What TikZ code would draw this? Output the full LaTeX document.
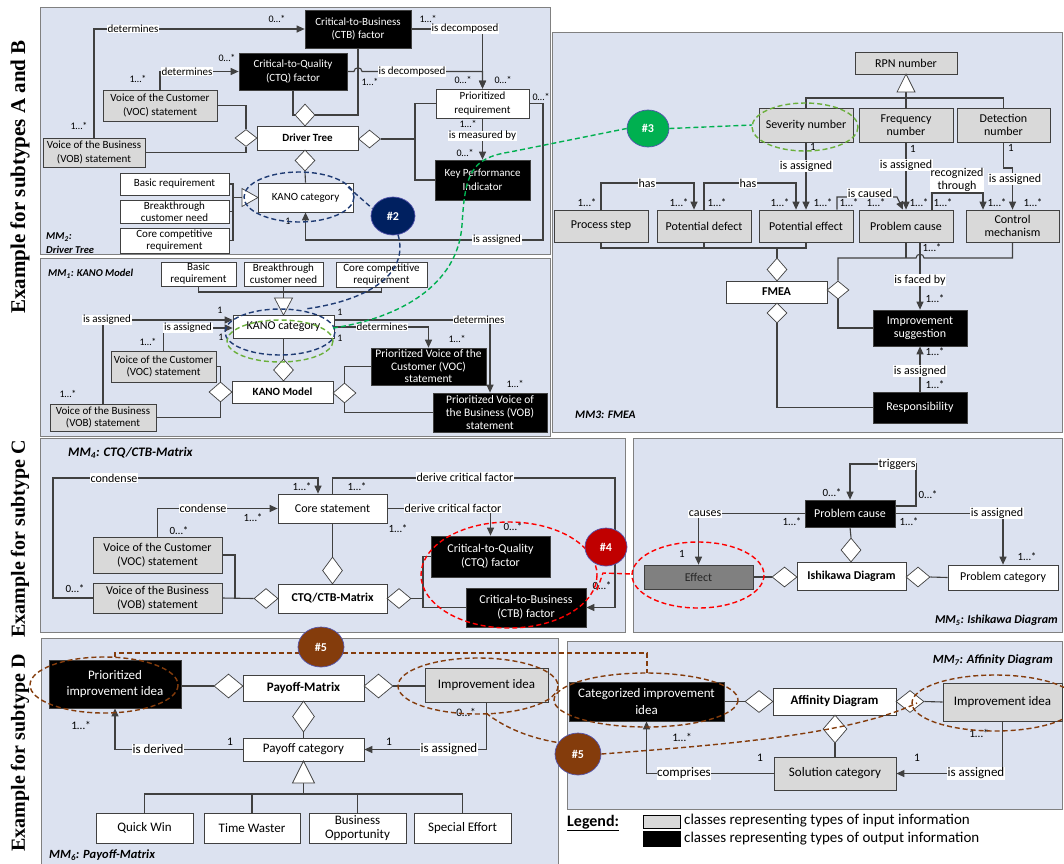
\documentclass[tikz,border=0pt]{standalone}
\usepackage{fontspec}
\setmainfont{Carlito}
\newfontfamily\tms{Liberation Serif}
\usetikzlibrary{shapes.geometric,arrows.meta,shadows,calc}
\definecolor{panel}{HTML}{DCE2F0}
\definecolor{pbord}{HTML}{808080}
\definecolor{lnc}{HTML}{404040}
\definecolor{gfill}{HTML}{D9D9D9}
\definecolor{effg}{HTML}{808080}
\definecolor{navyc}{HTML}{1F3B73}
\definecolor{navyf}{HTML}{002060}
\definecolor{grn}{HTML}{00B050}
\definecolor{grnl}{HTML}{6AAF3A}
\definecolor{redc}{HTML}{FF0000}
\definecolor{dredc}{HTML}{C00000}
\definecolor{brn}{HTML}{843C0C}
\def\nsz{11}\def\nbs{13}\def\msz{10}\def\lsz{11}
\newcommand\nf{\fontsize{\nsz}{\nbs}\selectfont}
\newcommand\mf{\fontsize{\msz}{\msz}\selectfont}
\newcommand\lf{\fontsize{\lsz}{\lsz}\selectfont}
\tikzset{
 pnl/.style={fill=panel, draw=pbord, line width=1pt},
 box/.style={draw=lnc, line width=0.7pt, align=center, inner sep=1pt, font=\nf,
   drop shadow={shadow xshift=1.2pt, shadow yshift=-1.2pt, fill=black, opacity=0.35}},
 inb/.style={box, fill=gfill},
 outb/.style={box, fill=black, text=white},
 wb/.style={box, fill=white},
 bb/.style={box, fill=white, font=\nf\bfseries},
 agg/.style={diamond, draw=lnc, fill=white, line width=0.7pt, inner sep=0pt, minimum width=24, minimum height=20},
 ln/.style={draw=lnc, line width=1.1pt},
 arr/.style={ln, -{Triangle[length=8pt,width=7pt]}},
 lab/.style={fill=white, inner sep=0.6pt, font=\nf},
 mul/.style={inner sep=0pt, font=\mf},
 circ/.style={ellipse, draw=blue!35!gray, line width=0.7pt, text=white, font=\fontsize{12}{12}\selectfont\bfseries, inner sep=0pt},
 dsh/.style={dash pattern=on 5pt off 3pt, line width=1.4pt},
 gen/.style={draw=lnc, fill=white, line width=0.7pt},
 mmlab/.style={font=\lf\bfseries\itshape, inner sep=0pt},
 side/.style={rotate=90, font=\tms\bfseries\fontsize{20}{20}\selectfont, inner sep=0pt},
}
\begin{document}
\begin{tikzpicture}[x=1pt,y=-1pt]
\useasboundingbox (0,0) rectangle (1064,863);
\clip (0,0) rectangle (1064,863);
\fill[white] (0,0) rectangle (1064,863);
% panels
\draw[pnl] (40,7) rectangle (550,254);
\draw[pnl] (40,258) rectangle (550,436);
\draw[pnl] (552,32) rectangle (1062,432);
\draw[pnl] (40,438) rectangle (625,632);
\draw[pnl] (633,438) rectangle (1062,632);
\draw[pnl] (41,638) rectangle (558,870);
\draw[pnl] (567,641) rectangle (1062,809);
% side labels
\node[side, font=\tms\bfseries\fontsize{21}{21}\selectfont] (sAB) at (20,177) {Example for subtypes A and B};
\node[side] (sC) at (20,539) {Example for subtype C};
\node[side] (sD) at (20,753) {Example for subtype D};

% ================= MM2 Driver Tree
\begin{scope}
\def\nsz{11}\def\nbs{13.5}\def\msz{10}\def\lsz{10.5}
\node[inb, minimum width=114, minimum height=31] (voc2) at (160,105.5) {Voice of the Customer\\(VOC) statement};
\node[inb, minimum width=102, minimum height=29] (vob2) at (94,152.5) {Voice of the Business\\(VOB) statement};
\node[outb, minimum width=108, minimum height=37] (ctq2) at (293,71.5) {Critical-to-Quality\\(CTQ) factor};
\node[outb, minimum width=106, minimum height=38] (ctb2) at (358,29) {Critical-to-Business\\(CTB) factor};
\node[bb, minimum width=101, minimum height=24] (dt) at (307.5,138) {Driver Tree};
\node[wb, minimum width=93, minimum height=29] (prio) at (482.5,103.5) {Prioritized\\requirement};
\node[outb, minimum width=95, minimum height=40] (kpi) at (482.5,180) {Key Performance\\Indicator};
\node[wb, minimum width=95, minimum height=29] (kano2) at (305.5,197.5) {KANO category};
\node[wb, minimum width=109, minimum height=22] (basic2) at (174.5,184) {Basic requirement};
\node[wb, minimum width=109, minimum height=23, font=\fontsize{11}{12}\selectfont] (break2) at (174.5,211.5) {Breakthrough\\customer need};
\node[wb, minimum width=109, minimum height=25, font=\fontsize{11}{12}\selectfont] (core2) at (174.5,240.5) {Core competitive\\requirement};
\node[agg, minimum width=22, minimum height=17] (d2l) at (246,138) {};
\node[agg, minimum width=20, minimum height=22] (d2t) at (305,115) {};
\node[agg, minimum width=22, minimum height=18] (d2r) at (369.5,139) {};
\node[agg, minimum width=20, minimum height=21] (d2b) at (305,160.5) {};
\draw[ln] (voc2.east) -| (d2l.north);
\draw[ln] (vob2.east) -| (d2l.south);
\draw[ln] (ctq2.south) |- (d2t.west);
\draw[ln] (ctb2.south) |- (d2t.east);
\draw[ln] (d2r.east) -- (415,139);
\draw[ln] (prio.west) -- (415,103.5) -- (415,180) -- (kpi.west);
\draw[ln] (d2b.south) -- (kano2.north);
\draw[ln] (basic2.east) -- (233,184) -- (233,240.5) -- (core2.east);
\draw[ln] (break2.east) -- (233,211.5);
\draw[ln] (233,197.5) -- (242,197.5);
\draw[gen] (242,188.5) -- (258,197.5) -- (242,206.5) -- cycle;
\draw[arr] (vob2.north) |- (ctb2.west);
\draw[arr] (voc2.north) |- (ctq2.west);
\draw[arr] (ctb2.east) -| (prio.north);
\draw[arr] (ctq2.east) -- (354,71.5) .. controls (354,66.5) and (362,66.5) .. (362,71.5) -| (prio.north);
\draw[arr] (prio.south) -- (kpi.north);
\draw[arr] (prio.east) -- (543,103.5) -- (543,240) -| (kano2.south);
\node[lab] at (133,29) {determines};
\node[lab] at (187,71.5) {determines};
\node[lab] at (465,29) {is decomposed};
\node[lab] at (412,71.5) {is decomposed};
\node[lab] at (482.5,136) {is measured by};
\node[lab] at (497,240) {is assigned};
\node[mul] at (79,126) {1…*};
\node[mul] at (277,19) {0…*};
\node[mul] at (138,79) {1…*};
\node[mul] at (227,58) {0…*};
\node[mul] at (428,19) {1…*};
\node[mul] at (370,82) {1…*};
\node[mul] at (463,80) {0…*};
\node[mul] at (503,80) {0…*};
\node[mul] at (468,124) {1…*};
\node[mul] at (465,153) {0…*};
\node[mul] at (541,97) {0…*};
\node[mul] at (288,221) {1};
\node[mmlab, anchor=west] at (46,237) {MM\textsubscript{2}:};
\node[mmlab, anchor=west] at (46,250) {Driver Tree};
\end{scope}

% ================= MM1 KANO
\begin{scope}
\def\nsz{11}\def\nbs{12.5}\def\msz{10}\def\lsz{10.5}
\node[wb, minimum width=75, minimum height=24, font=\fontsize{11}{12}\selectfont] (basic1) at (198.5,274) {Basic\\requirement};
\node[wb, minimum width=79, minimum height=24, font=\fontsize{11}{12}\selectfont] (break1) at (283.5,274) {Breakthrough\\customer need};
\node[wb, minimum width=91, minimum height=25, font=\fontsize{11}{12}\selectfont] (core1) at (381.5,274.5) {Core competitive\\requirement};
\node[wb, minimum width=101, minimum height=23, font=\fontsize{12}{12}\selectfont] (kano1) at (283.5,326.5) {KANO category};
\node[inb, minimum width=105, minimum height=31] (voc1) at (163.5,366.5) {Voice of the Customer\\(VOC) statement};
\node[inb, minimum width=106, minimum height=27] (vob1) at (103,417.5) {Voice of the Business\\(VOB) statement};
\node[bb, minimum width=101, minimum height=22] (km) at (282.5,392) {KANO Model};
\node[outb, minimum width=115, minimum height=37, font=\fontsize{11.5}{12.5}\selectfont] (pvoc) at (428.5,366.5) {Prioritized Voice of the\\Customer (VOC)\\statement};
\node[outb, minimum width=114, minimum height=39, font=\fontsize{11.5}{13}\selectfont] (pvob) at (490,412.5) {Prioritized Voice of\\the Business (VOB)\\statement};
\node[agg, minimum width=20, minimum height=22] (d1t) at (283.5,370) {};
\node[agg, minimum width=23, minimum height=20] (d1l) at (220.5,392) {};
\node[agg, minimum width=23, minimum height=20] (d1r) at (344.5,393) {};
\draw[ln] (basic1.south) -- (198.5,292) -- (381.5,292) -- (core1.south);
\draw[ln] (break1.south) -- (283.5,298);
\draw[gen] (274.5,298) -- (292.5,298) -- (283.5,315) -- cycle;
\draw[ln] (kano1.south) -- (d1t.north);
\draw[ln] (voc1.east) -| (d1l.north);
\draw[ln] (vob1.east) -| (d1l.south);
\draw[ln] (pvoc.west) -| (d1r.north);
\draw[ln] (pvob.west) -| (d1r.south);
\draw[arr] (vob1.north) |- ([yshift=6.5pt]kano1.west);
\draw[arr] (voc1.north) |- ([yshift=-1.5pt]kano1.west);
\draw[arr] ([yshift=-0.5pt]kano1.east) -| (pvoc.north);
\draw[arr] ([yshift=6.5pt]kano1.east) -| (pvob.north);
\node[lab] at (107,320) {is assigned};
\node[lab] at (188,328) {is assigned};
\node[lab] at (382,327) {determines};
\node[lab] at (479,320) {determines};
\node[mul] at (68,394) {1…*};
\node[mul] at (220,310) {1};
\node[mul] at (148,342) {1…*};
\node[mul] at (221,337) {1};
\node[mul] at (457,339) {1…*};
\node[mul] at (340,338) {1};
\node[mul] at (515,384) {1…*};
\node[mul] at (340,312) {1};
\node[mmlab, anchor=west] at (48,274) {MM\textsubscript{1}: KANO Model};
\end{scope}

% ================= MM3 FMEA
\begin{scope}
\def\nsz{12}\def\nbs{13.5}\def\msz{11}\def\lsz{11.5}
\node[inb, minimum width=102, minimum height=22] (rpn) at (906,63) {RPN number};
\node[inb, minimum width=94, minimum height=34] (sev) at (806,125) {Severity number};
\node[inb, minimum width=94, minimum height=34] (freq) at (906,125) {Frequency\\number};
\node[inb, minimum width=93, minimum height=34] (det) at (1003.5,125) {Detection\\number};
\node[inb, minimum width=94, minimum height=32] (ps) at (601,226) {Process step};
\node[inb, minimum width=94, minimum height=32] (pd) at (704,226) {Potential defect};
\node[inb, minimum width=94, minimum height=32] (pe) at (806,226) {Potential effect};
\node[inb, minimum width=94, minimum height=32] (pc3) at (906,226) {Problem cause};
\node[inb, minimum width=93, minimum height=32] (cm) at (1012.5,226) {Control\\mechanism};
\node[bb, minimum width=101, minimum height=22] (fmea) at (776.5,292) {FMEA};
\node[outb, minimum width=94, minimum height=36] (is) at (920,328) {Improvement\\suggestion};
\node[outb, minimum width=94, minimum height=31] (resp) at (920,407.5) {Responsibility};
\node[agg, minimum width=20, minimum height=23] (d3t) at (777,269.5) {};
\node[agg, minimum width=22, minimum height=18] (d3r) at (838,290) {};
\node[agg, minimum width=20, minimum height=20] (d3b) at (777,313) {};
\draw[ln] (sev.north) -- (806,98) -- (1003.5,98) -- (det.north);
\draw[ln] (freq.north) -- (906,92);
\draw[gen] (897,92) -- (915,92) -- (906,74) -- cycle;
\draw[ln] (ps.south) -- (601,248) -- (806,248) -- (pe.south);
\draw[ln] (pd.south) -- (704,248);
\draw[ln] (d3t.north) -- (777,248);
\draw[ln] (d3r.north) -- (838,258) -- (916,258) .. controls (916,253) and (924,253) .. (924,258) -- (1012.5,258) -- (cm.south);
\draw[ln] (pc3.south) -- (906,258);
\draw[ln] (d3r.south) |- (is.west);
\draw[ln] (d3b.south) |- (resp.west);
\draw[arr] (ps.north) -- (601,183) -| ([xshift=-10pt]pd.north);
\draw[arr] (pd.north) -- (704,183) -| ([xshift=-10pt]pe.north);
\draw[arr] (sev.south) -- (pe.north);
\draw[arr] ([xshift=31pt]pe.north) -- (837,197) -- (897,197) -- ([xshift=-3pt]pc3.north);
\draw[arr] (freq.south) -- (pc3.north);
\draw[arr] ([xshift=26pt]pc3.north) -- (932,193) -- (983,193) -- ([xshift=-29.5pt]cm.north);
\draw[arr] (det.south) -- (1003.5,168) -| (cm.north);
\draw[arr] ([xshift=14pt]pc3.south) -- (is.north);
\draw[arr] (resp.north) -- (is.south);
\node[lab] at (647,183) {has};
\node[lab] at (748,183) {has};
\node[lab] at (806,166) {is assigned};
\node[lab] at (870,193) {is caused};
\node[lab] at (906,165) {is assigned};
\node[lab, align=center, font=\fontsize{12}{13}\selectfont] at (957,180) {recognized\\through};
\node[lab] at (1015,179) {is assigned};
\node[lab] at (920,280) {is faced by};
\node[lab] at (920,371) {is assigned};
\foreach \xx in {587,679,717,780,823,849,876,919,943,997,1033} {\node[mul] at (\xx,203) {1…*};}
\node[mul] at (813,147) {1};
\node[mul] at (913,149) {1};
\node[mul] at (1011,148) {1};
\node[mul] at (932,248) {1…*};
\node[mul] at (935,299) {1…*};
\node[mul] at (935,352) {1…*};
\node[mul] at (935,385) {1…*};
\node[mmlab, anchor=west] at (575,415) {MM3: FMEA};
\end{scope}

% ================= MM4 CTQ/CTB
\begin{scope}
\def\nsz{12}\def\nbs{14}\def\msz{11}\def\lsz{13}
\node[wb, minimum width=109, minimum height=29] (core4) at (332.5,508.5) {Core statement};
\node[inb, minimum width=129, minimum height=36] (voc4) at (157.5,555) {Voice of the Customer\\(VOC) statement};
\node[inb, minimum width=129, minimum height=30] (vob4) at (157.5,598) {Voice of the Business\\(VOB) statement};
\node[bb, minimum width=109, minimum height=29] (mat) at (332.5,598.5) {CTQ/CTB-Matrix};
\node[outb, minimum width=119, minimum height=41] (ctq4) at (490.5,556.5) {Critical-to-Quality\\(CTQ) factor};
\node[outb, minimum width=120, minimum height=39] (ctb4) at (526,607.5) {Critical-to-Business\\(CTB) factor};
\node[agg, minimum width=20, minimum height=27] (d4t) at (332.5,570.5) {};
\node[agg, minimum width=24, minimum height=20] (d4l) at (266,598.5) {};
\node[agg, minimum width=24, minimum height=20] (d4r) at (399,598.5) {};
\draw[ln] (core4.south) -- (d4t.north);
\draw[ln] (vob4.east) -- (d4l.west);
\draw[ln] (voc4.east) -- (235,555) -- (235,598.5);
\draw[ln] (d4r.east) -- (423,598.5);
\draw[ln] (ctq4.west) -- (423,556.5) -- (423,607.5) -- (ctb4.west);
\draw[arr] (vob4.west) -- (53,598) -- (53,478) -| ([xshift=-14.5pt]core4.north);
\draw[arr] (voc4.north) |- (core4.west);
\draw[arr] (core4.east) -| (ctq4.north);
\draw[arr] (core4.north) -- (332.5,478) -- (615,478) |- (ctb4.east);
\node[lab] at (114,478) {condense};
\node[lab] at (203,508.5) {condense};
\node[lab] at (453,508.5) {derive critical factor};
\node[lab] at (465,477) {derive critical factor};
\node[mul] at (75,589) {0…*};
\node[mul] at (302,487) {1…*};
\node[mul] at (179,531) {0…*};
\node[mul] at (253,518) {1…*};
\node[mul] at (398,529) {1…*};
\node[mul] at (513,527) {0…*};
\node[mul] at (357,487) {1…*};
\node[mul] at (602,586) {0…*};
\node[mmlab, anchor=west] at (68,453) {MM\textsubscript{4}: CTQ/CTB-Matrix};
\end{scope}

% ================= MM5 Ishikawa
\begin{scope}
\def\nsz{12}\def\nbs{14}\def\msz{11}\def\lsz{12}
\node[outb, minimum width=90, minimum height=27] (pc5) at (850,513.5) {Problem cause};
\node[box, fill=effg, text=black!85, minimum width=109, minimum height=24] (eff) at (698.5,577) {Effect};
\node[bb, minimum width=109, minimum height=28] (ish) at (851.5,576) {Ishikawa Diagram};
\node[wb, minimum width=110, minimum height=25] (pcat) at (1003,577.5) {Problem category};
\node[agg, minimum width=20, minimum height=24] (d5t) at (851,550) {};
\node[agg, minimum width=25, minimum height=20] (d5l) at (784.5,577) {};
\node[agg, minimum width=24, minimum height=20] (d5r) at (918,577) {};
\draw[ln] (pc5.south) -- (d5t.north);
\draw[ln] (eff.east) -- (d5l.west);
\draw[ln] (d5r.east) -- (pcat.west);
\draw[arr] ([yshift=7.5pt]pc5.east) -- (916,506) -- (916,464) -| (pc5.north);
\draw[arr] (pc5.west) -| (eff.north);
\draw[arr] (pc5.east) -| (pcat.north);
\node[lab] at (897,464) {triggers};
\node[lab] at (705,514) {causes};
\node[lab] at (997,513) {is assigned};
\node[mul] at (832,493) {0…*};
\node[mul] at (928,495) {0…*};
\node[mul] at (792,522) {1…*};
\node[mul] at (682,554) {1};
\node[mul] at (909,522) {1…*};
\node[mul] at (1027,557) {1…*};
\node[mmlab, anchor=east] at (1058,620) {MM\textsubscript{5}: Ishikawa Diagram};
\end{scope}

% ================= MM6 Payoff
\begin{scope}
\def\nsz{13}\def\nbs{16}\def\msz{11.5}\def\lsz{12.5}
\node[outb, minimum width=132, minimum height=48] (pii) at (115,684) {Prioritized\\improvement idea};
\node[bb, minimum width=121, minimum height=26] (pm) at (303.5,688) {Payoff-Matrix};
\node[inb, minimum width=123, minimum height=34] (ii6) at (486.5,685) {Improvement idea};
\node[wb, minimum width=121, minimum height=23] (pcat6) at (303.5,749.5) {Payoff category};
\node[wb, minimum width=97, minimum height=30] (qw) at (144.5,828) {Quick Win};
\node[wb, minimum width=96, minimum height=30] (tw) at (252,828) {Time Waster};
\node[wb, minimum width=97, minimum height=30, font=\fontsize{13}{13.5}\selectfont] (bo) at (357.5,828) {Business\\Opportunity};
\node[wb, minimum width=97, minimum height=30] (se) at (462.5,828) {Special Effort};
\node[agg, minimum width=29, minimum height=24] (d6l) at (228.5,686) {};
\node[agg, minimum width=29, minimum height=24] (d6r) at (378.5,686) {};
\node[agg, minimum width=22, minimum height=31] (d6b) at (303.5,716.5) {};
\draw[ln] (pii.east |- d6l.west) -- (d6l.west);
\draw[ln] (d6r.east) -- (ii6.west |- d6r.east);
\draw[ln] (d6b.south) -- (pcat6.north);
\draw[ln] (303.5,783) -- (303.5,794);
\draw[ln] (qw.north) -- (144.5,794) -- (462.5,794) -- (se.north);
\draw[ln] (tw.north) -- (252,794);
\draw[ln] (bo.north) -- (357.5,794);
\draw[gen] (292.5,783) -- (314.5,783) -- (303.5,761) -- cycle;
\draw[arr] (pcat6.west) -| (pii.south);
\draw[arr] (ii6.south) |- (pcat6.east);
\node[lab] at (158,749.5) {is derived};
\node[lab] at (449,749.5) {is assigned};
\node[mul] at (230,742) {1};
\node[mul] at (81,725) {1…*};
\node[mul] at (389,742) {1};
\node[mul] at (466,712) {0…*};
\node[mmlab, anchor=west] at (49,855) {MM\textsubscript{6}: Payoff-Matrix};
\end{scope}

% ================= MM7 Affinity
\begin{scope}
\def\nsz{13}\def\nbs{16.5}\def\msz{11.5}\def\lsz{12.5}
\node[outb, minimum width=155, minimum height=39] (cii) at (646.5,701.5) {Categorized improvement\\idea};
\node[bb, minimum width=123, minimum height=27] (ad) at (834.5,701.5) {Affinity Diagram};
\node[inb, minimum width=119, minimum height=38] (ii7) at (1002.5,702) {Improvement idea};
\node[inb, minimum width=122, minimum height=33] (sc) at (835,773.5) {Solution category};
\node[agg, minimum width=28, minimum height=22] (d7l) at (759,701.5) {};
\node[agg, minimum width=28, minimum height=22] (d7r) at (910,701.5) {};
\node[agg, minimum width=24, minimum height=28] (d7b) at (835,729) {};
\draw[ln] (cii.east) -- (d7l.west);
\draw[ln] (d7r.east) -- (ii7.west);
\draw[ln] (d7b.south) -- (sc.north);
\draw[arr] (sc.west) -| (cii.south);
\draw[arr] (ii7.south) |- (sc.east);
\node[lab] at (684,773.5) {comprises};
\node[lab] at (976,773.5) {is assigned};
\node[mul] at (760,758) {1};
\node[mul] at (682,737) {1…*};
\node[mul] at (917,758) {1};
\node[mul] at (979,733) {1…*};
\node[mmlab, anchor=east] at (1053,660) {MM\textsubscript{7}: Affinity Diagram};
\end{scope}

% ================= Legend
\node[font=\fontsize{16}{16}\selectfont\bfseries, anchor=west, inner sep=0pt] (leg) at (567,823) {\underline{Legend:}};
\node[draw=black, line width=0.7pt, fill=gfill, minimum width=37, minimum height=13, inner sep=0pt] (lg1) at (661.5,821.5) {};
\node[draw=black, fill=black, minimum width=37, minimum height=15, inner sep=0pt] (lg2) at (661.5,838.5) {};
\node[anchor=west, font=\fontsize{15}{15}\selectfont, inner sep=0pt] (lt1) at (684,820.5) {classes representing types of input information};
\node[anchor=west, font=\fontsize{15}{15}\selectfont, inner sep=0pt] (lt2) at (684,838.5) {classes representing types of output information};

% ================= highlight overlays
% navy #2
\draw[navyc, dsh] (299,197) ellipse [x radius=55, y radius=25];
\draw[navyc, dsh] (280,332) ellipse [x radius=55, y radius=23];
\node[circ, fill=navyf, minimum width=44, minimum height=38] (c2) at (393,216) {\#2};
\draw[navyc, dsh] (348,187) -- (c2.160);
\draw[navyc, dsh] (c2.-75) .. controls (409,272) and (372,300) .. (305,309);
% green #3
\draw[grnl, dsh] (280,341) ellipse [x radius=53, y radius=21];
\draw[grnl, dsh] (805,127) ellipse [x radius=53, y radius=24];
\node[circ, fill=grn, minimum width=42, minimum height=37] (c3) at (648,128.5) {\#3};
\draw[grn, dsh] (333,328) .. controls (400,318) and (458,285) .. (462,225) .. controls (465,175) and (470,158) .. (510,152) -- (c3.west);
\draw[grn, dsh] (c3.east) -- (752,125);
% red #4
\draw[redc, dsh] (509,575) ellipse [x radius=88, y radius=53];
\draw[redc, dsh] (698,575) ellipse [x radius=66, y radius=33];
\node[circ, fill=dredc, minimum width=42, minimum height=38] (c4) at (606,547) {\#4};
\draw[redc, dsh] (597,590) -- (603,573) -- (632,574);
% brown #5
\draw[brn, dsh] (104,685) ellipse [x radius=74, y radius=28];
\draw[brn, dsh] (478,686) ellipse [x radius=80, y radius=28];
\draw[brn, dsh] (646,700) ellipse [x radius=92, y radius=27];
\draw[brn, dsh] (995,703) ellipse [x radius=83, y radius=28];
\draw[brn, dsh] (115,657) -- (115,653) -- (647,653) -- (647,673);
\node[circ, fill=brn, minimum width=46, minimum height=40] (c5a) at (321,647) {\#5};
\node[circ, fill=brn, minimum width=46, minimum height=42] (c5b) at (578,754) {\#5};
\draw[brn, dsh] (486,713) .. controls (505,728) and (530,738) .. (c5b.150);
\draw[brn, dsh] (c5b.east) .. controls (720,745) and (850,735) .. (917,703);
\end{tikzpicture}
\end{document}
